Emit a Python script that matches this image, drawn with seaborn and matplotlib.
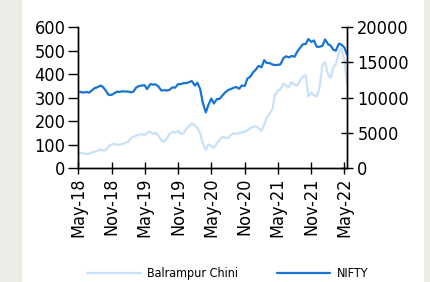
import pandas as pd
import matplotlib
matplotlib.use('Agg')
import matplotlib.pyplot as plt
import matplotlib.dates as mdates
from matplotlib.patches import Rectangle
import seaborn as sns

# semi-monthly readings (1st and 15th of each month), May-2018 .. May-2022
dates = pd.date_range('2018-05-01', '2022-05-15', freq='SMS')

balrampur = [
    66, 65, 62, 60, 62, 66, 70, 72, 80, 74, 78, 92, 100, 104, 98, 100,
    102, 108, 112, 128, 132, 138, 142, 145, 140, 150, 155, 145, 150, 138, 118, 112,
    128, 145, 155, 150, 158, 145, 148, 165,
    180, 190, 182, 170, 150, 105, 78, 100, 95, 85, 105, 120, 132, 130, 128, 140,
    148, 145, 150, 152, 155, 160, 170, 175,
    178, 170, 160, 185, 215, 230, 250, 310, 330, 335, 360, 350, 345, 365, 355, 350,
    375, 390, 395, 305, 320, 310, 305, 340,
    440, 450, 395, 385, 430, 440, 495, 510, 460, 360,
]

nifty = [
    10720, 10800, 10700, 10800, 10700, 11000, 11350, 11450, 11700, 11500, 10950, 10400,
    10380, 10600, 10850, 10800,
    10900, 10850, 10850, 10750, 10850, 11400, 11650, 11700, 11750, 11200, 11900, 11850,
    11850, 11600, 11000, 11050, 11000, 11100, 11450, 11400, 11900, 11900, 12050, 12050,
    12200, 12350, 11700, 12100, 11200, 9300, 7900, 8950, 9850, 9150, 9800, 9800,
    10300, 10700, 11050, 11200, 11400, 11500, 11250, 11700, 11650, 12700, 12950, 13550,
    14000, 14500, 14300, 15300, 14900, 14900, 14700, 14600, 14650, 14700, 15600, 15850,
    15700, 15900, 15800, 16500, 17100, 17550, 17600, 18300, 17900, 18100, 17200, 17200,
    17350, 18250, 17550, 17350, 16800, 16650, 17650, 17500, 17100, 16100,
]

df = pd.DataFrame({'date': dates, 'Balrampur Chini': balrampur, 'NIFTY': nifty})

sns.set_style('white')
plt.rcParams['font.family'] = ['DejaVu Sans']
plt.rcParams['font.stretch'] = 'condensed'
plt.rcParams['text.color'] = 'black'
plt.rcParams['xtick.color'] = 'black'
plt.rcParams['ytick.color'] = 'black'

fig = plt.figure(figsize=(4.31, 2.82), dpi=100, facecolor='#edede7')
fig.patches.append(Rectangle((22 / 431, 0), 402 / 431, 1, transform=fig.transFigure,
                             facecolor='white', edgecolor='none', zorder=-5))

ax = fig.add_axes([0.181, 0.404, 0.624, 0.500])
ax2 = ax.twinx()

sns.lineplot(data=df, x='date', y='Balrampur Chini', ax=ax, color='#c8e1fa', lw=1.6,
             label='Balrampur Chini', legend=False)
sns.lineplot(data=df, x='date', y='NIFTY', ax=ax2, color='#1874d2', lw=1.6,
             label='NIFTY', legend=False)

ax.set_xlim(pd.Timestamp('2018-05-01'), pd.Timestamp('2022-05-15'))
ax.set_ylim(0, 600)
ax2.set_ylim(0, 20000)
ax.set_yticks(range(0, 601, 100))
ax2.set_yticks(range(0, 20001, 5000))
ax.xaxis.set_major_locator(mdates.MonthLocator(bymonth=[5, 11]))
ax.xaxis.set_major_formatter(mdates.DateFormatter('%b-%y'))
ax.set_xlabel('')
ax.set_ylabel('')
ax2.set_ylabel('')

for a in (ax, ax2):
    a.set_facecolor('none')
    a.spines['top'].set_visible(False)
    for s in ('left', 'right', 'bottom'):
        a.spines[s].set_color('black')
        a.spines[s].set_linewidth(1)

ax.tick_params(axis='y', direction='out', length=7, width=1, labelsize=13, pad=2, left=True)
ax.tick_params(axis='x', direction='inout', length=8, width=1, labelsize=13, pad=3,
               rotation=90, bottom=True)
ax2.tick_params(axis='y', direction='inout', length=9, width=1, labelsize=13, pad=3, right=True)

h1, l1 = ax.get_legend_handles_labels()
h2, l2 = ax2.get_legend_handles_labels()
fig.legend(h1 + h2, l1 + l2, loc='lower center', bbox_to_anchor=(0.528, 0.0), ncol=2,
           frameon=False, fontsize=9, handlelength=4.3, columnspacing=3.1, handletextpad=0.5,
           borderaxespad=0.05, borderpad=0.1)

fig.savefig('out.png', dpi=100, facecolor=fig.get_facecolor())
